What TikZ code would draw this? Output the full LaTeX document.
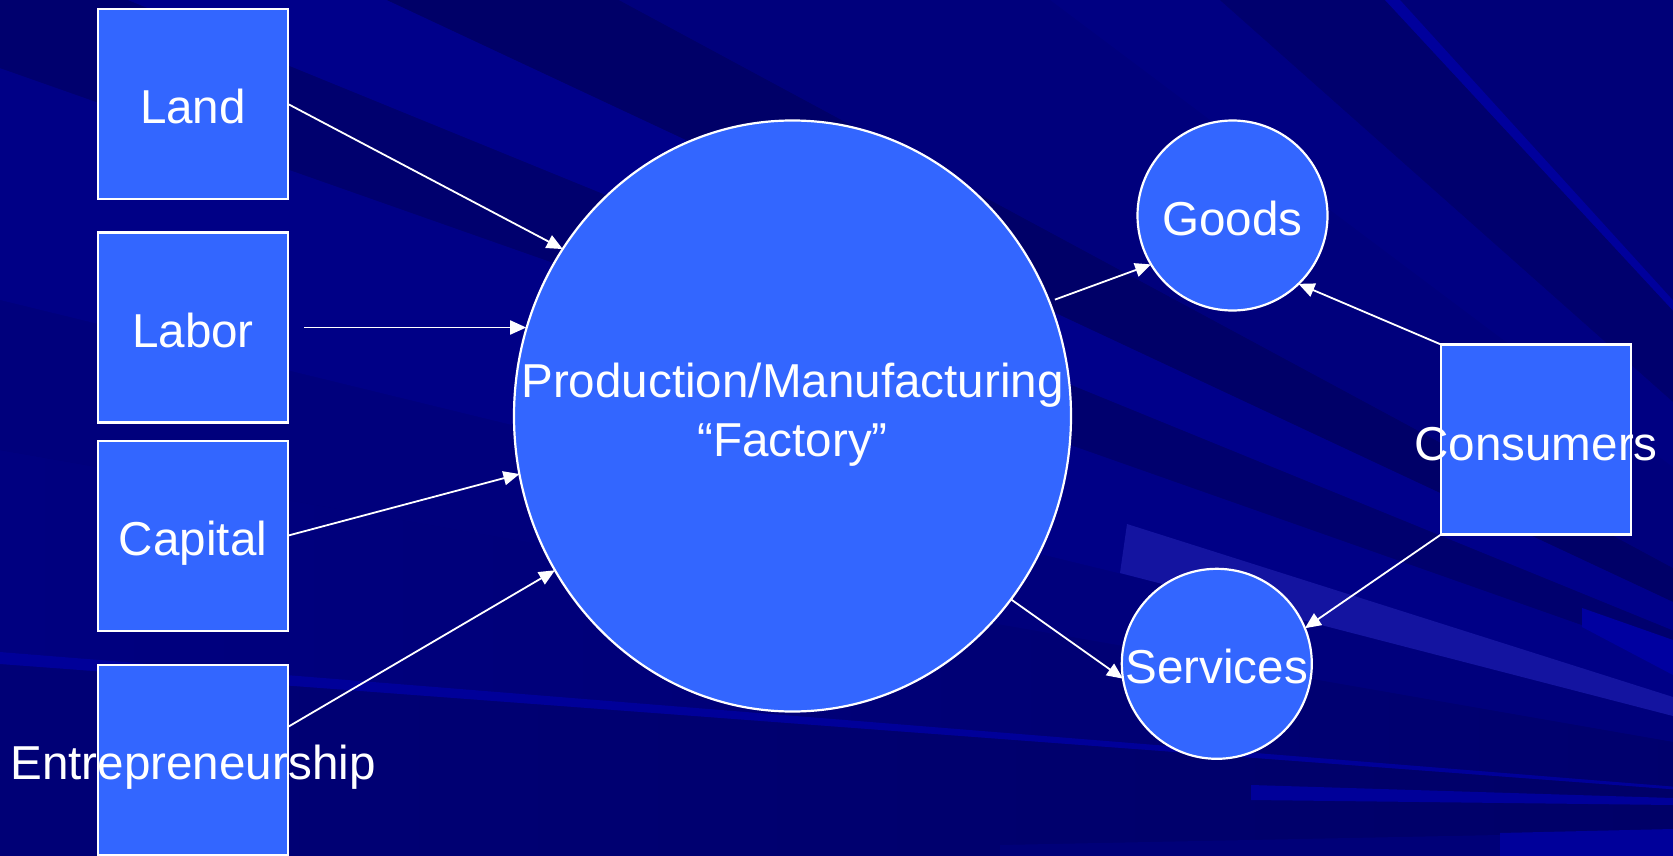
\documentclass[tikz,border=0pt]{standalone}
\usepackage{fontspec}
\setmainfont{Liberation Sans}
\usetikzlibrary{shapes.geometric,arrows.meta,calc}

\definecolor{unitblue}{HTML}{3366FF}
\definecolor{bgbase}{HTML}{000078}
\definecolor{streak}{RGB}{20,20,160}
\definecolor{lowleft}{RGB}{0,0,128}
\definecolor{lowright}{RGB}{0,0,104}
\definecolor{floorleft}{RGB}{0,0,118}
\definecolor{floorright}{RGB}{0,0,100}

\begin{document}
\begin{tikzpicture}[x=1pt,y=-1pt,
  unit/.style={draw=white, line width=2.2pt, fill=unitblue, inner sep=0pt, outer sep=0pt},
  factor/.style={unit, rectangle, minimum width=190pt, minimum height=190pt},
  disc/.style={unit, circle, minimum size=190pt},
  caption/.style={text=white, font=\fontsize{47.6}{58.6}\selectfont, inner sep=0pt, anchor=base},
  flow/.style={draw=white, line width=1.8pt, -{Triangle[length=16pt,width=14pt]}},
  ray/.style={fill={rgb,255:red,0;green,0;blue,#1}},
]
\useasboundingbox (0,0) rectangle (1673,856);

% background: rays fanning out from a point beyond the right edge
\coordinate (fan) at (2150,825);
\begin{scope}
  \clip (0,0) rectangle (1673,856);
  \fill[bgbase] (0,0) rectangle (1673,856);
  \shade[left color=floorleft, right color=floorright] (fan) -- (0,664) -- (0,856) -- (1673,856) -- cycle;
  \shade[left color=lowleft, right color=lowright] (fan) -- (0,450) -- (0,652) -- cycle;
  \fill[ray=124] (fan) -- (0,300) -- (0,450) -- cycle;
  \fill[ray=134] (fan) -- (0,68) -- (0,300) -- cycle;
  \fill[ray=110] (fan) -- (0,68) -- (0,0) -- (128,0) -- cycle;
  \fill[ray=138] (fan) -- (128,0) -- (387,0) -- cycle;
  \fill[ray=104] (fan) -- (387,0) -- (619,0) -- cycle;
  \fill[ray=124] (fan) -- (619,0) -- (1050,0) -- cycle;
  \fill[ray=130] (fan) -- (1050,0) -- (1220,0) -- cycle;
  \fill[ray=110] (fan) -- (1220,0) -- (1385,0) -- cycle;
  \fill[ray=156] (fan) -- (1385,0) -- (1400,0) -- cycle;
  \fill[ray=153] (fan) -- (0,652) -- (0,664) -- cycle;
  % lighter streaks low on the right
  \fill[streak] (1127,524) -- (1673,697) -- (1673,716) -- (1120,573) -- cycle;
  \fill[ray=160] (1582,608) -- (1673,640) -- (1673,675) -- (1582,627) -- cycle;
  \fill[ray=153] (1251,785) -- (1673,798) -- (1673,805) -- (1251,800) -- cycle;
  \fill[ray=120] (1000,845) -- (1500,835) -- (1500,856) -- (1000,856) -- cycle;
  \fill[ray=154] (1500,833) -- (1673,829) -- (1673,856) -- (1500,856) -- cycle;
\end{scope}

% factors of production
\node[factor] (land)    at (193,104)   {};
\node[factor] (labor)   at (193,327.5) {};
\node[factor] (capital) at (193,535.6) {};
\node[factor] (entre)   at (193,759.6) {};

% the factory
\node[unit, ellipse, minimum width=557pt, minimum height=591pt] (prod) at (792.5,416) {};

% outputs and consumers
\node[disc] (goods)    at (1232.5,215.5) {};
\node[disc] (services) at (1216.8,663.8) {};
\node[factor] (consumers) at (1536,439.5) {};

% captions
\node[caption] (landtxt)    at ($(land.center)+(0,20)$)    {Land};
\node[caption] (labortxt)   at ($(labor.center)+(0,20)$)   {Labor};
\node[caption] (capitaltxt) at ($(capital.center)+(0,20)$) {Capital};
\node[caption] (entretxt)   at ($(entre.center)+(0,20)$)   {Entrepreneurship};
\node[caption] (prodtxt)    at ($(prod.center)+(0,-18.5)$) {Production/Manufacturing};
\node[caption] (factorytxt) at ($(prod.center)+(0,40.7)$)  {“Factory”};
\node[caption] (goodstxt)   at ($(goods.center)+(0,20)$)   {Goods};
\node[caption] (servicestxt) at ($(services.center)+(0,20)$) {Services};
\node[caption] (consumerstxt) at ($(consumers.center)+(0,21)$) {Consumers};

% flows
\draw[flow] (land.east) -- (prod.144);
\draw[flow, shorten <=16pt] (labor.east) -- (labor.east -| prod.162);
\draw[flow] (capital.east) -- (prod.192);
\draw[flow] (entre.19) -- (prod.213);
\draw[flow, shorten <=6pt] (prod.24) -- (goods.211);
\draw[flow] (prod.320) -- (services.189);
\draw[flow] (consumers.north west) -- (goods.314);
\draw[flow] (consumers.south west) -- (services.22);
\end{tikzpicture}
\end{document}
